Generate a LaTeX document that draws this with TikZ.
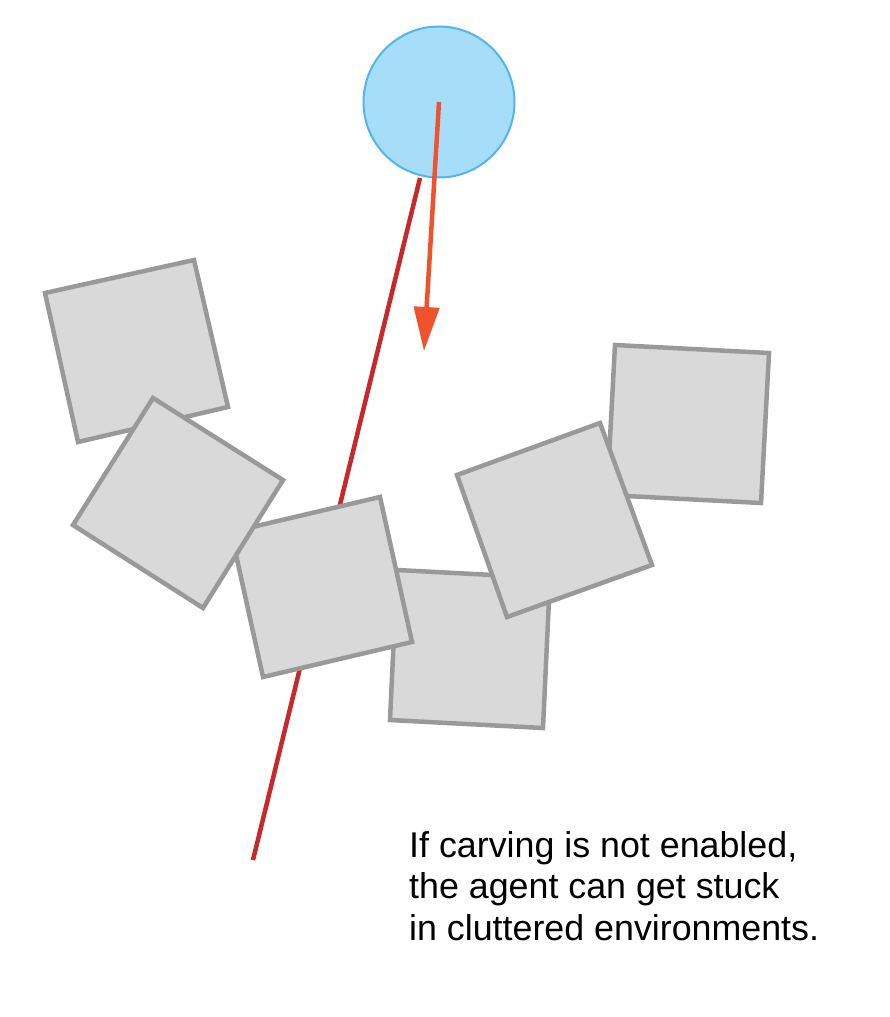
\documentclass[tikz,border=0pt]{standalone}
\usepackage{fontspec}
\setmainfont{Liberation Sans}
\usetikzlibrary{arrows.meta}
\definecolor{boxfill}{HTML}{D9D9D9}
\definecolor{boxline}{HTML}{999999}
\definecolor{agentfill}{HTML}{A6DEFA}
\definecolor{agentline}{HTML}{52B5F2}
\definecolor{pathred}{HTML}{C8282A}
\definecolor{arrowred}{HTML}{F0522D}
\tikzset{
  obstacle/.style={fill=boxfill, draw=boxline, line width=4.5pt, line join=miter},
  agent/.style={circle, fill=agentfill, draw=agentline, line width=2pt, minimum size=151pt, inner sep=0pt},
  trajectory/.style={draw=pathred, line width=4.5pt},
  heading/.style={draw=arrowred, line width=4.5pt, -{Triangle[length=44pt, width=25pt]}},
  caption/.style={font=\fontsize{35.8}{41.5}\selectfont, align=left, inner sep=0pt, anchor=north west}
}
\begin{document}
\begin{tikzpicture}[x=1pt, y=-1pt]
\useasboundingbox[fill=white] (0,0) rectangle (890,1017);
% trajectory behind obstacles
\coordinate (trajstart) at (420,178);
\coordinate (trajend) at (253,860);
\draw[trajectory] (trajstart) -- (trajend);
% obstacles (bottom to top)
\draw[obstacle] (45,293) -- (194,260) -- (228,407) -- (78,442) -- cycle;
\draw[obstacle] (615,345) -- (769,353) -- (761,503) -- (607,495) -- cycle;
\draw[obstacle] (397,570) -- (550,578) -- (543,728) -- (390,720) -- cycle;
\draw[obstacle] (231,532) -- (380,497) -- (412,642) -- (263,677) -- cycle;
\draw[obstacle] (153,398) -- (283,480) -- (203,608) -- (73,525) -- cycle;
\draw[obstacle] (457,475) -- (600,423) -- (652,565) -- (507,617) -- cycle;
% agent
\node[agent] (agent) at (439,102) {};
\coordinate (goal) at (424,351);
\draw[heading] (agent.center) -- (goal);
% caption
\node[caption] (note) at (409,831) {If carving is not enabled,\\the agent can get stuck\\in cluttered environments.};
\end{tikzpicture}
\end{document}
